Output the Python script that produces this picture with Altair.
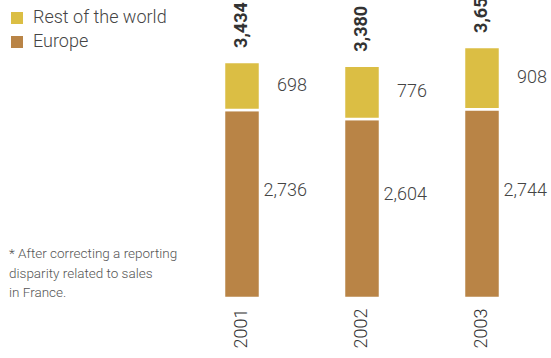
import altair as alt
import pandas as pd

years = ["2001", "2002", "2003"]
europe = [2736, 2604, 2744]
rest = [698, 776, 908]
series = ["Rest of the world", "Europe"]
colors = ["#DBBE44", "#B98446"]
footnote = "* After correcting a reporting\ndisparity related to sales\nin France."

rows = []
for y, e, r in zip(years, europe, rest):
    rows.append({"year": y, "series": "Europe", "value": e, "ord": 0})
    rows.append({"year": y, "series": "Rest of the world", "value": r, "ord": 1})
df = pd.DataFrame(rows)

tot = pd.DataFrame({"year": years, "europe": europe, "rest": rest})
tot["total"] = tot["europe"] + tot["rest"]
tot["rest_mid"] = tot["europe"] + tot["rest"] / 2
tot["eur_mid"] = tot["europe"] / 2
tot["total_lbl"] = tot["total"].map(lambda v: f"{v:,}")
tot["eur_lbl"] = tot["europe"].map(lambda v: f"{v:,}")
tot["rest_lbl"] = tot["rest"].map(lambda v: f"{v:,}")

FONT = "Roboto"
LIGHT = 300
GRAY = "#444444"

xenc = alt.X(
    "year:N",
    sort=years,
    scale=alt.Scale(paddingInner=0.70, paddingOuter=0.35),
    axis=alt.Axis(
        title=None, labelAngle=-90, domain=False, ticks=False,
        labelPadding=10, labelFontSize=18, labelColor="#333333",
        labelFont=FONT, labelFontWeight=LIGHT, labelAlign="right", labelBaseline="middle",
    ),
)
yscale = alt.Scale(domain=[0, 4000])

bars = alt.Chart(df).mark_bar(stroke="white", strokeWidth=2.5).encode(
    x=xenc,
    y=alt.Y("value:Q", stack="zero", scale=yscale, axis=None),
    color=alt.Color(
        "series:N",
        scale=alt.Scale(domain=series, range=colors),
        legend=alt.Legend(
            title=None, orient="none", legendX=-174, legendY=-14,
            symbolType="square", symbolSize=144, symbolStrokeWidth=0,
            labelFontSize=18, labelFont=FONT, labelFontWeight=LIGHT, labelColor=GRAY,
            rowPadding=6, labelOffset=7,
        ),
    ),
    order=alt.Order("ord:Q"),
)

base = alt.Chart(tot).encode(x=alt.X("year:N", sort=years))

total_txt = base.mark_text(
    angle=270, align="left", baseline="middle", dx=14,
    fontSize=18, fontWeight="bold", font=FONT, color="#333333",
).encode(y=alt.Y("total:Q", scale=yscale), text="total_lbl:N")

rest_txt = base.mark_text(
    align="right", baseline="middle", dx=65,
    fontSize=18, font=FONT, fontWeight=LIGHT, color=GRAY,
).encode(y=alt.Y("rest_mid:Q", scale=yscale), text="rest_lbl:N")

eur_txt = base.mark_text(
    align="right", baseline="middle", dx=65, dy=-13,
    fontSize=18, font=FONT, fontWeight=LIGHT, color=GRAY,
).encode(y=alt.Y("eur_mid:Q", scale=yscale), text="eur_lbl:N")

note = alt.Chart(pd.DataFrame({"t": [footnote]})).mark_text(
    align="left", baseline="top", fontSize=13.5, font=FONT, fontWeight=LIGHT, color="#555555",
    lineBreak="\n", lineHeight=19.5,
).encode(x=alt.value(-173), y=alt.value(224), text="t:N")

chart = alt.layer(bars, total_txt, rest_txt, eur_txt, note).properties(
    width=360, height=275,
    autosize=alt.AutoSizeParams(type="none"),
    padding={"left": 182, "top": 23, "right": 9, "bottom": 60},
).configure_view(stroke=None)

chart.save("out.html", embed_options={"renderer": "svg", "actions": False})
